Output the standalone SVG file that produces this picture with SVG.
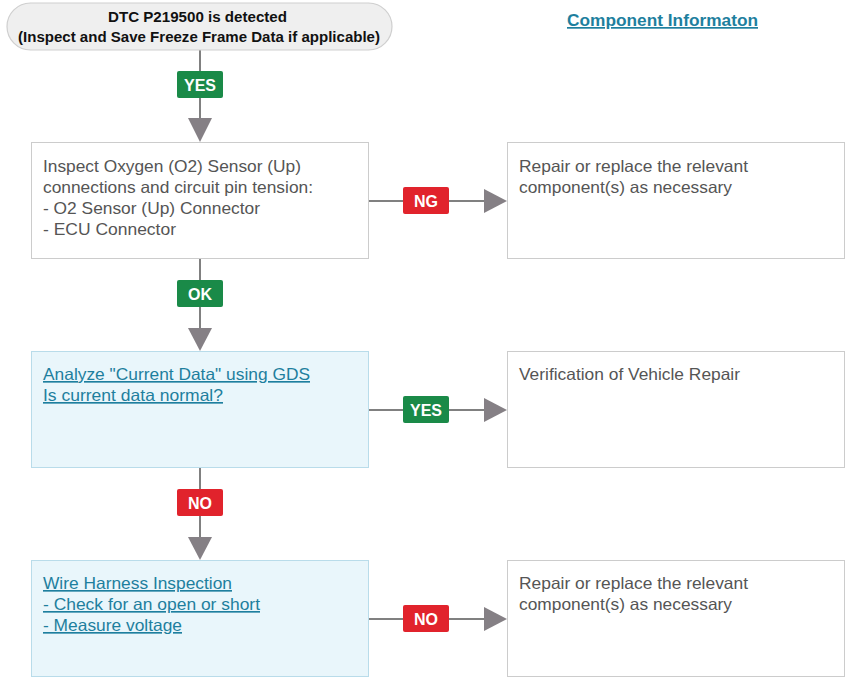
<svg xmlns="http://www.w3.org/2000/svg" width="851" height="682" viewBox="0 0 851 682">
<defs>
<style>
.box{fill:#ffffff;stroke:#cccccc;stroke-width:1}
.bluebox{fill:#e9f6fb;stroke:#b9dcea;stroke-width:1}
.pill{fill:#efefef;stroke:#cfcfcf;stroke-width:1.2}
.t{font-family:"Liberation Sans",Arial,sans-serif;font-size:16.5px;fill:#555555}
.link{font-family:"Liberation Sans",Arial,sans-serif;font-size:16.5px;fill:#1e7f9e;text-decoration:underline}
.title{font-family:"Liberation Sans",Arial,sans-serif;font-size:14.5px;font-weight:bold;fill:#111111}
.comp{font-family:"Liberation Sans",Arial,sans-serif;font-size:17px;font-weight:bold;fill:#1e7f9e;text-decoration:underline}
.line{stroke:#808080;stroke-width:2;fill:none}
.head{fill:#858085}
.green{fill:#1a8a48}
.red{fill:#e1232c}
.bt{font-family:"Liberation Sans",Arial,sans-serif;font-size:16px;font-weight:bold;fill:#ffffff;text-anchor:middle}
</style>
</defs>
<rect width="851" height="682" fill="#ffffff"/>

<g id="connectors">
  <line class="line" x1="200" y1="50" x2="200" y2="120"/>
  <polygon class="head" points="188,118 212,118 200,142"/>
  <line class="line" x1="200" y1="259" x2="200" y2="330"/>
  <polygon class="head" points="188,328 212,328 200,351"/>
  <line class="line" x1="200" y1="468" x2="200" y2="539"/>
  <polygon class="head" points="188,537 212,537 200,560"/>
  <line class="line" x1="369" y1="201" x2="486" y2="201"/>
  <polygon class="head" points="484,189 484,213 507,201"/>
  <line class="line" x1="369" y1="410" x2="486" y2="410"/>
  <polygon class="head" points="484,398 484,422 507,410"/>
  <line class="line" x1="369" y1="619" x2="486" y2="619"/>
  <polygon class="head" points="484,607 484,631 507,619"/>
  <g id="label-yes1"><rect class="green" x="177" y="71" width="46" height="27" rx="2"/><text class="bt" x="200" y="90.5">YES</text></g>
  <g id="label-ng"><rect class="red" x="403" y="187" width="46" height="27" rx="2"/><text class="bt" x="426" y="206.5">NG</text></g>
  <g id="label-ok"><rect class="green" x="177" y="280" width="46" height="27" rx="2"/><text class="bt" x="200" y="299.5">OK</text></g>
  <g id="label-yes2"><rect class="green" x="403" y="396" width="46" height="27" rx="2"/><text class="bt" x="426" y="415.5">YES</text></g>
  <g id="label-no1"><rect class="red" x="177" y="489" width="46" height="27" rx="2"/><text class="bt" x="200" y="508.5">NO</text></g>
  <g id="label-no2"><rect class="red" x="403" y="605" width="46" height="27" rx="2"/><text class="bt" x="426" y="624.5">NO</text></g>
</g>

<g id="start">
  <rect class="pill" x="7" y="3" width="385" height="47" rx="23.5"/>
  <text class="title" x="108" y="22" textLength="179" lengthAdjust="spacingAndGlyphs">DTC P219500 is detected</text>
  <text class="title" x="18" y="42" textLength="362" lengthAdjust="spacingAndGlyphs">(Inspect and Save Freeze Frame Data if applicable)</text>
</g>

<g id="component-info">
  <text class="comp" x="567" y="26" textLength="191" lengthAdjust="spacingAndGlyphs">Component Informaton</text>
</g>

<g id="inspect-o2">
  <rect class="box" x="31.5" y="142.5" width="337" height="116"/>
  <text class="t" x="43" y="171.5" textLength="258" lengthAdjust="spacingAndGlyphs">Inspect Oxygen (O2) Sensor (Up)</text>
  <text class="t" x="43" y="192.5" textLength="270" lengthAdjust="spacingAndGlyphs">connections and circuit pin tension:</text>
  <text class="t" x="43" y="213.5" textLength="217" lengthAdjust="spacingAndGlyphs">- O2 Sensor (Up) Connector</text>
  <text class="t" x="43" y="234.5" textLength="133" lengthAdjust="spacingAndGlyphs">- ECU Connector</text>
</g>

<g id="repair1">
  <rect class="box" x="507.5" y="142.5" width="337" height="116"/>
  <text class="t" x="519" y="171.5" textLength="229" lengthAdjust="spacingAndGlyphs">Repair or replace the relevant</text>
  <text class="t" x="519" y="192.5" textLength="213" lengthAdjust="spacingAndGlyphs">component(s) as necessary</text>
</g>

<g id="analyze">
  <rect class="bluebox" x="31.5" y="351.5" width="337" height="116"/>
  <text class="link" x="43" y="380" textLength="267" lengthAdjust="spacingAndGlyphs">Analyze "Current Data" using GDS</text>
  <text class="link" x="43" y="401" textLength="180" lengthAdjust="spacingAndGlyphs">Is current data normal?</text>
</g>

<g id="verification">
  <rect class="box" x="507.5" y="351.5" width="337" height="116"/>
  <text class="t" x="519" y="380" textLength="221" lengthAdjust="spacingAndGlyphs">Verification of Vehicle Repair</text>
</g>

<g id="harness">
  <rect class="bluebox" x="31.5" y="560.5" width="337" height="116"/>
  <text class="link" x="43" y="589" textLength="189" lengthAdjust="spacingAndGlyphs">Wire Harness Inspection</text>
  <text class="link" x="43" y="610" textLength="217" lengthAdjust="spacingAndGlyphs">- Check for an open or short</text>
  <text class="link" x="43" y="631" textLength="139" lengthAdjust="spacingAndGlyphs">- Measure voltage</text>
</g>

<g id="repair2">
  <rect class="box" x="507.5" y="560.5" width="337" height="116"/>
  <text class="t" x="519" y="589" textLength="229" lengthAdjust="spacingAndGlyphs">Repair or replace the relevant</text>
  <text class="t" x="519" y="610" textLength="213" lengthAdjust="spacingAndGlyphs">component(s) as necessary</text>
</g>
</svg>
